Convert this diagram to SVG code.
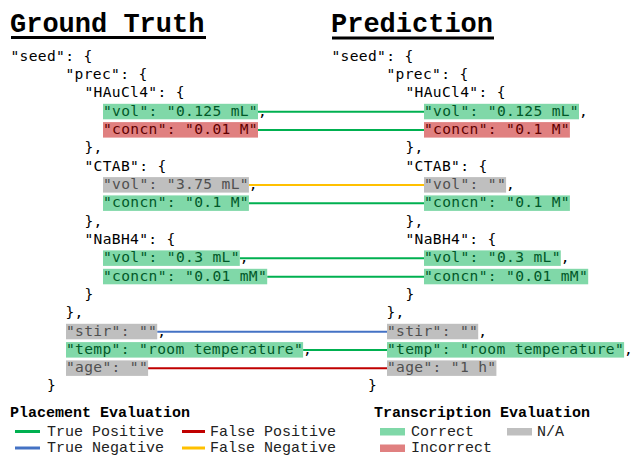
<svg xmlns="http://www.w3.org/2000/svg" width="634" height="456" viewBox="0 0 634 456">
<style>
.code{font-family:"DejaVu Sans Mono",monospace;font-size:14.6px;letter-spacing:0.33px;fill:#000}
.title{font-family:"Liberation Mono","Courier New",monospace;font-weight:bold;font-size:27px;fill:#000}
.lgt{font-family:"Liberation Mono","Courier New",monospace;font-weight:bold;font-size:15px;fill:#000}
.lg{font-family:"Liberation Mono","Courier New",monospace;font-size:15px;fill:#222}
.bg{fill:#80d8a8}.br{fill:#e08080}.bn{fill:#bfbfbf}
.tg{fill:#005828}.tr{fill:#600000}.tn{fill:#505050}
.c{stroke-width:2;fill:none}
.tp{stroke:#00b050}.tn2{stroke:#4472c4}.fp{stroke:#c00000}.fn{stroke:#ffc000}
.ll{stroke-width:3;fill:none}
</style>

<g id="titles">
<text class="title" x="10" y="31.5">Ground Truth</text>
<rect x="11" y="36" width="195" height="3" fill="#000"/>
<text class="title" x="331" y="31.5">Prediction</text>
<rect x="332" y="36.5" width="162" height="3" fill="#000"/>
</g>

<g id="connectors">
<line class="c tp" x1="258" y1="111.7" x2="424" y2="111.7"/>
<line class="c tp" x1="258" y1="130" x2="424" y2="130"/>
<line class="c fn" x1="248.9" y1="185" x2="424" y2="185"/>
<line class="c tp" x1="248.9" y1="203.3" x2="424" y2="203.3"/>
<line class="c tp" x1="239.8" y1="258.3" x2="424" y2="258.3"/>
<line class="c tp" x1="267.2" y1="276.7" x2="424" y2="276.7"/>
<line class="c tn2" x1="157.2" y1="331.7" x2="387" y2="331.7"/>
<line class="c tp" x1="303.1" y1="350" x2="387" y2="350"/>
<line class="c fp" x1="148.1" y1="368.3" x2="387" y2="368.3"/>
</g>

<g id="ground-truth">
<text class="code" x="10.5" y="60.5">"seed": {</text>
<text class="code" x="65.5" y="78.8">"prec": {</text>
<text class="code" x="84.5" y="97.2">"HAuCl4": {</text>
<g id="gt-hau-vol"><rect class="bg" x="103" y="103.8" width="155" height="15.5"/><text class="code" x="103" y="115.5"><tspan class="tg">"vol": "0.125 mL"</tspan>,</text></g>
<g id="gt-hau-concn"><rect class="br" x="103" y="122.1" width="155" height="15.5"/><text class="code tr" x="103" y="133.8">"concn": "0.01 M"</text></g>
<text class="code" x="84.5" y="152.2">},</text>
<text class="code" x="84.5" y="170.5">"CTAB": {</text>
<g id="gt-ctab-vol"><rect class="bn" x="103" y="177.1" width="145.9" height="15.5"/><text class="code" x="103" y="188.8"><tspan class="tn">"vol": "3.75 mL"</tspan>,</text></g>
<g id="gt-ctab-concn"><rect class="bg" x="103" y="195.4" width="145.9" height="15.5"/><text class="code tg" x="103" y="207.1">"concn": "0.1 M"</text></g>
<text class="code" x="84.5" y="225.5">},</text>
<text class="code" x="84.5" y="243.8">"NaBH4": {</text>
<g id="gt-nabh4-vol"><rect class="bg" x="103" y="250.4" width="136.8" height="15.5"/><text class="code" x="103" y="262.1"><tspan class="tg">"vol": "0.3 mL"</tspan>,</text></g>
<g id="gt-nabh4-concn"><rect class="bg" x="103" y="268.8" width="164.2" height="15.5"/><text class="code tg" x="103" y="280.5">"concn": "0.01 mM"</text></g>
<text class="code" x="84.5" y="298.8">}</text>
<text class="code" x="65.5" y="317.1">},</text>
<g id="gt-stir"><rect class="bn" x="66" y="323.8" width="91.2" height="15.5"/><text class="code" x="66" y="335.5"><tspan class="tn">"stir": ""</tspan>,</text></g>
<g id="gt-temp"><rect class="bg" x="66" y="342.1" width="237.1" height="15.5"/><text class="code" x="66" y="353.8"><tspan class="tg">"temp": "room temperature"</tspan>,</text></g>
<g id="gt-age"><rect class="bn" x="66" y="360.4" width="82.1" height="15.5"/><text class="code tn" x="66" y="372.1">"age": ""</text></g>
<text class="code" x="47" y="390.4">}</text>
</g>

<g id="prediction">
<text class="code" x="331.5" y="60.5">"seed": {</text>
<text class="code" x="386.5" y="78.8">"prec": {</text>
<text class="code" x="405.5" y="97.2">"HAuCl4": {</text>
<g id="pr-hau-vol"><rect class="bg" x="424" y="103.8" width="155" height="15.5"/><text class="code" x="424" y="115.5"><tspan class="tg">"vol": "0.125 mL"</tspan>,</text></g>
<g id="pr-hau-concn"><rect class="br" x="424" y="122.1" width="145.9" height="15.5"/><text class="code tr" x="424" y="133.8">"concn": "0.1 M"</text></g>
<text class="code" x="405.5" y="152.2">},</text>
<text class="code" x="405.5" y="170.5">"CTAB": {</text>
<g id="pr-ctab-vol"><rect class="bn" x="424" y="177.1" width="82.1" height="15.5"/><text class="code" x="424" y="188.8"><tspan class="tn">"vol": ""</tspan>,</text></g>
<g id="pr-ctab-concn"><rect class="bg" x="424" y="195.4" width="145.9" height="15.5"/><text class="code tg" x="424" y="207.1">"concn": "0.1 M"</text></g>
<text class="code" x="405.5" y="225.5">},</text>
<text class="code" x="405.5" y="243.8">"NaBH4": {</text>
<g id="pr-nabh4-vol"><rect class="bg" x="424" y="250.4" width="136.8" height="15.5"/><text class="code" x="424" y="262.1"><tspan class="tg">"vol": "0.3 mL"</tspan>,</text></g>
<g id="pr-nabh4-concn"><rect class="bg" x="424" y="268.8" width="164.2" height="15.5"/><text class="code tg" x="424" y="280.5">"concn": "0.01 mM"</text></g>
<text class="code" x="405.5" y="298.8">}</text>
<text class="code" x="386.5" y="317.1">},</text>
<g id="pr-stir"><rect class="bn" x="387" y="323.8" width="91.2" height="15.5"/><text class="code" x="387" y="335.5"><tspan class="tn">"stir": ""</tspan>,</text></g>
<g id="pr-temp"><rect class="bg" x="387" y="342.1" width="237.1" height="15.5"/><text class="code" x="387" y="353.8"><tspan class="tg">"temp": "room temperature"</tspan>,</text></g>
<g id="pr-age"><rect class="bn" x="387" y="360.4" width="109.4" height="15.5"/><text class="code tn" x="387" y="372.1">"age": "1 h"</text></g>
<text class="code" x="368" y="390.4">}</text>
</g>

<g id="legend-placement">
<text class="lgt" x="10" y="416.5">Placement Evaluation</text>
<line class="ll tp" x1="15" y1="431.5" x2="40" y2="431.5"/>
<text class="lg" x="47" y="436">True Positive</text>
<line class="ll fp" x1="182" y1="431.5" x2="205" y2="431.5"/>
<text class="lg" x="210" y="436">False Positive</text>
<line class="ll tn2" x1="15" y1="448" x2="40" y2="448"/>
<text class="lg" x="47" y="452">True Negative</text>
<line class="ll fn" x1="182" y1="448" x2="205" y2="448"/>
<text class="lg" x="210" y="452">False Negative</text>
</g>

<g id="legend-transcription">
<text class="lgt" x="374" y="416.5">Transcription Evaluation</text>
<rect class="bg" x="380" y="428" width="25" height="7.5"/>
<text class="lg" x="411" y="436">Correct</text>
<rect class="bn" x="507" y="428" width="25" height="7.5"/>
<text class="lg" x="537" y="436">N/A</text>
<rect class="br" x="380" y="444.5" width="25" height="7.5"/>
<text class="lg" x="411" y="452">Incorrect</text>
</g>
</svg>
